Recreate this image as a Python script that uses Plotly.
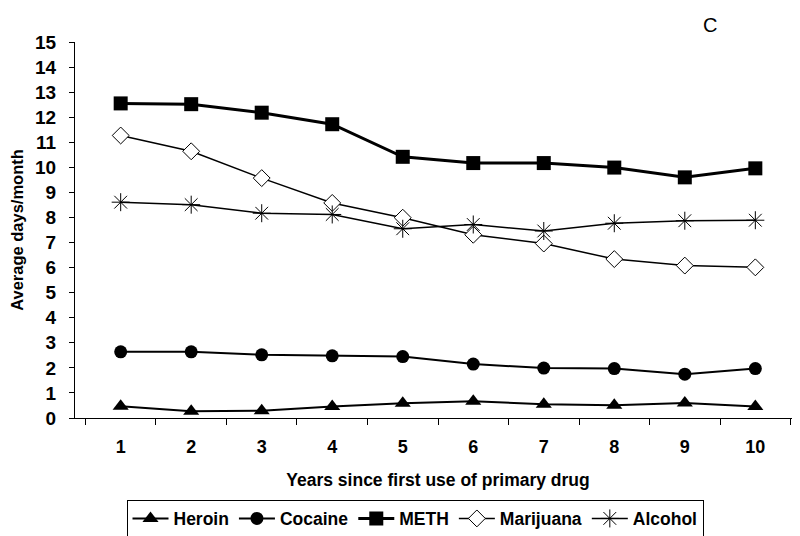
import plotly.graph_objects as go

years = ["1", "2", "3", "4", "5", "6", "7", "8", "9", "10"]
heroin = [0.47, 0.27, 0.29, 0.46, 0.59, 0.67, 0.55, 0.51, 0.60, 0.46]
cocaine = [2.64, 2.64, 2.52, 2.48, 2.45, 2.15, 1.99, 1.97, 1.75, 1.97]
meth = [12.55, 12.52, 12.18, 11.72, 10.42, 10.17, 10.17, 9.99, 9.60, 9.96]
marijuana = [11.27, 10.64, 9.57, 8.58, 7.99, 7.31, 6.96, 6.34, 6.08, 6.01]
alcohol = [8.61, 8.51, 8.17, 8.12, 7.55, 7.72, 7.46, 7.77, 7.87, 7.89]
y_ticks = list(range(0, 16))

FONT = "Liberation Sans, Arial, sans-serif"

fig = go.Figure()
fig.add_trace(go.Scatter(x=years, y=heroin, name="Heroin", mode="lines+markers",
                         line=dict(color="black", width=2),
                         marker=dict(symbol="triangle-up", size=14, color="black")))
fig.add_trace(go.Scatter(x=years, y=cocaine, name="Cocaine", mode="lines+markers",
                         line=dict(color="black", width=2),
                         marker=dict(symbol="circle", size=13, color="black")))
fig.add_trace(go.Scatter(x=years, y=meth, name="METH", mode="lines+markers",
                         line=dict(color="black", width=3),
                         marker=dict(symbol="square", size=14, color="black")))
fig.add_trace(go.Scatter(x=years, y=marijuana, name="Marijuana", mode="lines+markers",
                         line=dict(color="black", width=1.5),
                         marker=dict(symbol="diamond", size=13, color="white",
                                     line=dict(color="black", width=1))))
fig.add_trace(go.Scatter(x=years, y=alcohol, name="Alcohol", mode="lines+markers",
                         line=dict(color="black", width=1.5),
                         marker=dict(symbol="asterisk-open", size=15, color="black",
                                     line=dict(color="black", width=1))))

pw = 800 - 67 - 7
ph = 536 - 34 - 117

fig.update_layout(
    width=800, height=536,
    margin=dict(l=67, r=7, t=34, b=117),
    paper_bgcolor="white", plot_bgcolor="white",
    font=dict(family=FONT, color="black", size=16),
    showlegend=True,
    legend=dict(orientation="h", x=(407 - 67) / pw, xanchor="center",
                y=-(503 - 419.5) / ph, yanchor="top",
                bordercolor="black", borderwidth=1, bgcolor="white",
                font=dict(family=FONT, size=17.5, weight="bold"),
                itemwidth=36, tracegroupgap=0),
    xaxis=dict(type="category", tickson="boundaries", ticks="outside", ticklen=6,
               tickcolor="black", showline=True, linecolor="black", linewidth=1,
               showgrid=False, zeroline=False, ticklabelstandoff=12, automargin=False,
               tickfont=dict(family=FONT, size=18, weight="bold"),
               title=dict(text="Years since first use of primary drug",
                          font=dict(family=FONT, size=17.5, weight="bold"), standoff=18)),
    yaxis=dict(range=[0, 15], tickvals=y_ticks, ticks="outside", ticklen=5,
               tickcolor="black", showline=True, linecolor="black", linewidth=1,
               showgrid=False, zeroline=False, ticklabelstandoff=9, automargin=False,
               tickfont=dict(family=FONT, size=19, weight="bold"),
               title=dict(text="Average days/month",
                          font=dict(family=FONT, size=16.5, weight="bold"), standoff=13)),
    annotations=[dict(text="C", x=(702 - 67) / pw, y=(536 - 117 - 17) / ph,
                      xref="paper", yref="paper", xanchor="center", yanchor="middle",
                      showarrow=False, font=dict(family=FONT, size=20))],
)

fig.write_html("out.html")
